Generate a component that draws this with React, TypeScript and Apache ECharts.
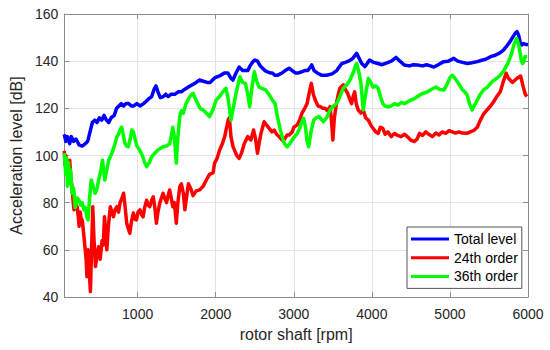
import React, { useEffect, useRef } from "react";
import * as echarts from "echarts";

const seriesNames = ["Total level", "24th order", "36th order"];
const seriesColors = ["#0000ff", "#ff0000", "#00ff00"];

const totalRpm = [60,80,100,130,150,180,210,250,290,330,360,390,420,450,480,510,540,570,600,630,660,700,730,760,790,820,850,885,920,950,990,1030,1075,1110,1140,1180,1210,1235,1260,1290,1330,1360,1390,1430,1480,1520,1560,1600,1650,1700,1750,1790,1840,1890,1930,1960,1990,2030,2065,2110,2155,2190,2220,2260,2300,2345,2380,2410,2440,2470,2500,2535,2570,2600,2630,2660,2700,2725,2760,2790,2820,2850,2890,2940,2980,3020,3060,3100,3140,3180,3230,3260,3300,3360,3420,3490,3550,3615,3660,3700,3750,3805,3840,3870,3910,3940,3970,4020,4080,4130,4185,4250,4310,4360,4415,4480,4530,4585,4650,4700,4750,4795,4850,4920,4980,5050,5100,5160,5225,5280,5350,5420,5470,5520,5580,5640,5685,5730,5770,5810,5840,5860,5880,5900,5920,5940,5960,6000];
const totalDb = [109,106,108,105,108,106,107,104.5,104,105,106,110,114,115,114,116,115,117,115,114,116,117,120,121,122,121,122,122,121,121,122,121,122,123,124,125,128,129.5,127,124.5,125,126,125,126,126,127,127,128,129,130,131,132,131.5,131,131,132,133,133.5,134,135,135,133,132,135,137.5,136,136,136,138,139.5,140.5,140,138,137,136,135.5,135,135,134,134,134.5,135,136,137,136,135,135,135.5,136,136,138.4,136,135,134,134,134.6,136,139,139.5,140,141,143.3,141,139,137.7,139,140.5,139.5,139,138.5,139.2,140,141.6,140,138.4,138,138.5,138.4,138,138.5,138,137.5,138.5,139.8,140,141.2,140,139.5,139,139.3,139.8,140.5,141,141.9,142.5,143.5,144.7,146.5,148.3,150.5,152,152.5,151,148,146.9,147.5,147.2,147];

const order24Rpm = [60,70,80,90,100,115,130,145,160,175,185,200,215,225,240,250,265,280,290,305,325,340,350,365,375,385,395,410,425,440,460,480,500,520,545,560,575,590,605,625,650,670,690,710,735,755,775,800,820,840,860,880,900,920,945,965,985,1005,1030,1050,1070,1090,1115,1135,1155,1180,1200,1220,1240,1260,1285,1305,1325,1345,1370,1390,1410,1430,1450,1470,1495,1515,1540,1560,1585,1605,1625,1650,1680,1710,1750,1795,1840,1880,1920,1965,1985,2020,2050,2085,2115,2140,2160,2175,2195,2220,2240,2270,2300,2330,2365,2410,2450,2485,2510,2535,2560,2580,2620,2650,2685,2720,2750,2780,2810,2850,2875,2915,2940,2980,3000,3045,3075,3105,3140,3170,3200,3225,3250,3275,3310,3340,3370,3400,3430,3465,3485,3500,3520,3550,3570,3590,3635,3660,3690,3715,3740,3760,3780,3800,3825,3860,3890,3920,3955,3985,4015,4050,4080,4110,4140,4170,4205,4250,4290,4330,4375,4420,4460,4500,4545,4580,4610,4650,4690,4730,4775,4820,4860,4900,4945,4990,5030,5070,5115,5160,5220,5260,5305,5350,5390,5430,5475,5520,5560,5600,5645,5680,5720,5745,5770,5800,5835,5870,5905,5940,5965,5985];
const order24Db = [102,96,100,94,97,92,98,90,86.6,80,77,82,78,78.3,74,70,76,72,72.7,68,61.3,56,48.6,60,55.7,48,42.3,60,78.3,65,52.9,58,61.3,56,64,62,74,68,60,70,78.3,76,74,77,78.3,76,80,82,84,78,71.3,69,67,72,75.6,73,72.7,76,77,75,74,78,81,79,78.3,81,82.5,78,71.3,76,80,82,84,82,80,83,85.4,82,78.3,80,71.3,80,86.8,88,84,77,82,88,86,83,85,85.4,87,89.6,92,92.6,96.7,99,102.3,105,108,112,115,116,108,104,102.3,100,98.8,101,105,108,106.6,110.8,107,101,106,109.4,114.3,113,111.5,110,110.8,109,108,106.6,106.6,108.7,108.7,110,112,113,115,118,120,122,127,130.6,126,123.5,121,120.7,120,120,119,120.7,114,106.6,116,122.8,126,128.5,130,128,126.4,124,122,125,127,122,119.3,118,119.3,116,115,113,111.5,110,109.4,112,111.5,109,110,108,109.4,108.5,108,109,107.8,106.5,105.9,107,109.4,108.5,110,109,108,109.5,108.7,110,109.4,110.5,110,109.5,110,109.5,109.4,110,110.6,112,115,117.5,119.3,121,122.8,125,127,131,134.9,133,132,131,132,133,133.7,129,126,125];

const order36Rpm = [60,70,80,90,100,115,130,140,160,180,200,225,250,270,290,310,330,350,365,385,405,430,455,480,500,525,550,565,580,605,630,670,710,735,755,775,795,815,835,860,880,905,925,945,960,990,1025,1060,1090,1115,1150,1180,1220,1260,1290,1325,1370,1410,1430,1450,1470,1495,1515,1540,1560,1585,1620,1650,1680,1710,1740,1770,1800,1840,1880,1920,1960,2005,2050,2090,2130,2160,2195,2230,2260,2285,2310,2345,2380,2410,2435,2460,2495,2520,2555,2590,2640,2680,2725,2760,2790,2820,2850,2880,2915,2950,2980,3010,3045,3080,3100,3125,3150,3170,3190,3220,3255,3290,3320,3350,3380,3420,3465,3510,3550,3590,3635,3680,3720,3760,3790,3805,3830,3860,3890,3920,3955,3985,4015,4050,4080,4110,4140,4170,4205,4250,4290,4335,4380,4420,4460,4500,4540,4585,4630,4670,4715,4760,4790,4820,4870,4925,4960,5000,5030,5060,5095,5130,5160,5190,5220,5250,5285,5310,5350,5390,5430,5480,5540,5590,5645,5690,5730,5760,5790,5820,5855,5880,5900,5915,5930,5950,5960,5990];
const order36Db = [101,96,92,99,87,97,88,94,84,86,78,82,81,79,80,77,78,74,72.7,82,89.6,87,84,86,89.6,93,98,94,89.6,94,98,101,105,108,109,111,112,109,105.3,104,103.7,107,110.8,110,108,104,102.3,100,97,95.3,97,99.5,101,102.3,103,103.7,104,105,108,112,108,96.8,108,116.5,119,118,122,124,125.5,126.4,124,122,120,119.3,118,116.5,119,123.5,125,127,128.5,124,115,121,126.4,130,133.4,131,130.6,126,120.7,128,135.5,132,129,128.5,127.8,126,123.5,122,116.5,112,108,105,103.7,105,106.6,108,109.4,112,114,115.8,112,106,103.7,110,115,116,116.5,115.5,114.3,116,119.3,121,122,125,128.5,130,132,135,138,139,136,130.6,119.3,126,132.7,131,129,129.5,128.5,125,122,121,120.7,121,122,121.4,122.5,122,122.8,123.5,124,125,126,126.5,127,128,128.5,129,128,127.8,130,133,134,133,131.3,129.5,127.8,127,125.7,122,119.3,121,123.5,126,127.8,129,131.3,132.5,134,136,138.4,140.5,143.3,147,149.7,147,143.3,140,139,140,141.9,142];

const xMin = 60;
const xMax = 6000;
const yMin = 40;
const yMax = 160;
const yStep = 20;

const FONT = "'Liberation Sans', Arial, Helvetica, sans-serif";

function zip(a: number[], b: number[]) {
  return a.map((v, i) => [v, b[i]]);
}

export default function App() {
  const ref = useRef<HTMLDivElement>(null);
  useEffect(() => {
    if (!ref.current) return;
    const chart = echarts.init(ref.current, null, { renderer: "svg" });
    const axisLineStyle = { color: "#8c8c8c", width: 1 };
    const tickStyle = { color: "#8c8c8c", width: 1 };
    const datasets = [zip(totalRpm, totalDb), zip(order24Rpm, order24Db), zip(order36Rpm, order36Db)];
    chart.setOption({
      animation: false,
      backgroundColor: "#ffffff",
      grid: { left: 60, right: 22, top: 14, bottom: 53, containLabel: false },
      legend: {
        orient: "vertical",
        left: 407,
        top: 227,
        itemWidth: 38,
        itemHeight: 3,
        itemGap: 4.7,
        padding: [5, 4, 5, 4],
        borderColor: "#555555",
        borderWidth: 1,
        borderRadius: 0,
        backgroundColor: "#ffffff",
        textStyle: { fontSize: 14, color: "#000000", fontFamily: FONT, lineHeight: 14 },
        data: seriesNames.map((n) => ({ name: n, icon: "rect" })),
      },
      xAxis: [
        {
          type: "value",
          min: xMin,
          max: xMax,
          splitNumber: 6,
          name: "rotor shaft [rpm]",
          nameLocation: "middle",
          nameGap: 29,
          nameTextStyle: { fontSize: 16, color: "#262626", fontFamily: FONT },
          axisLine: { show: true, lineStyle: axisLineStyle },
          axisTick: { show: true, inside: true, length: 5, lineStyle: tickStyle },
          axisLabel: {
            showMinLabel: false,
            fontSize: 14,
            color: "#262626",
            fontFamily: FONT,
            margin: 10,
            formatter: (v: number) => String(v),
          },
          splitLine: { show: true, lineStyle: { color: "#e3e3e3", width: 1 } },
        },
        {
          type: "value",
          position: "top",
          min: xMin,
          max: xMax,
          splitNumber: 6,
          axisLine: { show: true, lineStyle: axisLineStyle },
          axisTick: { show: true, inside: true, length: 5, lineStyle: tickStyle },
          axisLabel: { show: false },
          splitLine: { show: false },
        },
      ],
      yAxis: [
        {
          type: "value",
          min: yMin,
          max: yMax,
          interval: yStep,
          name: "Acceleration level [dB]",
          nameLocation: "middle",
          nameGap: 39,
          nameTextStyle: { fontSize: 16, color: "#262626", fontFamily: FONT },
          axisLine: { show: true, lineStyle: axisLineStyle },
          axisTick: { show: true, inside: true, length: 5, lineStyle: tickStyle },
          axisLabel: { fontSize: 14, color: "#262626", fontFamily: FONT, margin: 6, formatter: (v: number) => String(v) },
          splitLine: { show: true, lineStyle: { color: "#e3e3e3", width: 1 } },
        },
        {
          type: "value",
          position: "right",
          min: yMin,
          max: yMax,
          interval: yStep,
          axisLine: { show: true, lineStyle: axisLineStyle },
          axisTick: { show: true, inside: true, length: 5, lineStyle: tickStyle },
          axisLabel: { show: false },
          splitLine: { show: false },
        },
      ],
      series: seriesNames.map((name, i) => ({
        name,
        type: "line",
        xAxisIndex: 0,
        yAxisIndex: 0,
        data: datasets[i],
        showSymbol: false,
        symbol: "none",
        color: seriesColors[i],
        lineStyle: { color: seriesColors[i], width: 3.5, join: "round" },
        z: 2 + i,
      })),
    });
    return () => chart.dispose();
  }, []);
  return (
    <div
      ref={ref}
      style={{ width: 550, height: 350, position: "absolute", left: 0, top: 0, background: "#fff" }}
    />
  );
}
